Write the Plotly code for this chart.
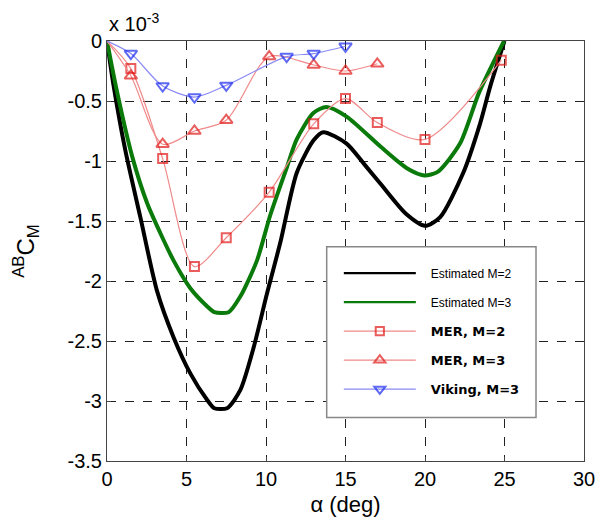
import plotly.graph_objects as go

# values of ABCM are in units of 1e-3 (as shown on the axis, "x 10^-3")
est_m2_alpha = [0, 0.4, 1.15, 2.1, 3.14, 4.19, 5.24, 6.29, 6.75, 7.55, 8.38, 9.23, 10.07, 10.9, 11.93,
                12.98, 13.6, 15.07, 16.2, 17.2, 18.8, 20.0, 20.94, 22.4, 23.46, 24.1, 25.0]
est_m2_cm = [0, -0.36, -0.91, -1.47, -2.08, -2.47, -2.77, -2.99, -3.06, -3.06, -2.91, -2.55, -2.1, -1.68, -1.1,
             -0.83, -0.76, -0.855, -1.03, -1.19, -1.44, -1.54, -1.47, -1.1, -0.69, -0.38, 0.0]

est_m3_alpha = [0, 0.61, 1.6, 2.52, 3.35, 4.19, 5.24, 6.29, 6.75, 7.65, 8.38, 9.43, 10.27, 11.32, 11.93,
                12.98, 13.8, 15.07, 17.2, 18.86, 19.95, 20.8, 22.2, 23.4, 24.97]
est_m3_cm = [0, -0.41, -0.97, -1.35, -1.6, -1.83, -2.06, -2.21, -2.26, -2.26, -2.13, -1.83, -1.45, -1.05, -0.82,
             -0.6, -0.55, -0.63, -0.88, -1.06, -1.12, -1.09, -0.855, -0.43, 0.0]

mer_m2_alpha = [0, 1.5, 3.5, 5.5, 7.5, 10.2, 13, 15, 17, 20, 24.8]
mer_m2_cm = [0, -0.23, -0.98, -1.88, -1.64, -1.26, -0.69, -0.48, -0.68, -0.82, -0.16]

mer_m3_alpha = [0, 1.5, 3.5, 5.5, 7.5, 10.2, 13, 15, 17]
mer_m3_cm = [0, -0.29, -0.86, -0.75, -0.66, -0.13, -0.20, -0.25, -0.19]

viking_m3_alpha = [0, 1.5, 3.5, 5.5, 7.5, 11.3, 13, 15]
viking_m3_cm = [0, -0.105, -0.375, -0.467, -0.37, -0.13, -0.105, -0.044]

x_ticks = [0, 5, 10, 15, 20, 25, 30]
y_ticks = [0, -0.5, -1, -1.5, -2, -2.5, -3, -3.5]
y_tick_labels = ["0", "-0.5", "-1", "-1.5", "-2", "-2.5", "-3", "-3.5"]

FONT = "Arial, Liberation Sans, sans-serif"
PAD = "\u00a0\u00a0\u00a0"

def bold(t):
    return PAD + f"<span style='font-family:DejaVu Sans;font-weight:bold;font-size:13px'>{t}</span>"

fig = go.Figure()

def sizes(n, s):
    return [0] + [s] * (n - 1)

# estimated curves (drawn thick, legend sample thinner)
for xs, ys, col, nm, grp in [(est_m2_alpha, est_m2_cm, "black", "Estimated M=2", "a"),
                             (est_m3_alpha, est_m3_cm, "#0a7a0a", "Estimated M=3", "b")]:
    fig.add_trace(go.Scatter(
        x=xs, y=ys, mode="lines", name=nm, showlegend=False,
        line=dict(color=col, width=4, shape="spline", smoothing=0.7),
        legendgroup=grp))
    fig.add_trace(go.Scatter(
        x=[None], y=[None], mode="lines", name=PAD + nm,
        line=dict(color=col, width=2.2), legendgroup=grp))

fig.add_trace(go.Scatter(
    x=mer_m2_alpha, y=mer_m2_cm, mode="lines+markers", name=bold("MER, M=2"),
    line=dict(color="#f08a8a", width=1.2, shape="spline", smoothing=0.8),
    marker=dict(symbol="square-open", size=sizes(len(mer_m2_alpha), 9), color="#e01818",
                line=dict(width=2, color="#e01818")),
    legendgroup="c"))
fig.add_trace(go.Scatter(
    x=mer_m3_alpha, y=mer_m3_cm, mode="lines+markers", name=bold("MER, M=3"),
    line=dict(color="#f08a8a", width=1.2, shape="spline", smoothing=0.8),
    marker=dict(symbol="triangle-up-open", size=sizes(len(mer_m3_alpha), 11), color="#e01818",
                line=dict(width=2, color="#e01818")),
    legendgroup="d"))
fig.add_trace(go.Scatter(
    x=viking_m3_alpha, y=viking_m3_cm, mode="lines+markers", name=bold("Viking, M=3"),
    line=dict(color="#8a8af5", width=1.2, shape="spline", smoothing=0.8),
    marker=dict(symbol="triangle-down-open", size=sizes(len(viking_m3_alpha), 11), color="#1a2af0",
                line=dict(width=2, color="#1a2af0")),
    legendgroup="e"))

axis_common = dict(
    showgrid=True, gridcolor="#222", griddash="dash", gridwidth=1,
    showline=True, linecolor="#444", linewidth=1, mirror=True,
    ticks="inside", ticklen=4, tickcolor="#444",
    zeroline=False, automargin=False,
    tickfont=dict(family=FONT, size=20, color="black"),
)

fig.update_layout(
    width=600, height=524,
    margin=dict(l=107, r=16, t=41, b=63),
    paper_bgcolor="white", plot_bgcolor="white",
    font=dict(family=FONT, color="black"),
    xaxis=dict(range=[0, 30], tickvals=x_ticks, **axis_common,
               title=dict(text="α (deg)", font=dict(family=FONT, size=22), standoff=7)),
    yaxis=dict(range=[-3.5, 0], tickvals=y_ticks, ticktext=y_tick_labels, **axis_common,
               title=dict(text="<sup>AB</sup>C<sub>M</sub>", font=dict(family=FONT, size=24), standoff=26)),
    legend=dict(x=0.486, y=0.482, xanchor="left", yanchor="top",
                bgcolor="rgba(0,0,0,0)", borderwidth=0,
                font=dict(family=FONT, size=12, color="black"),
                itemwidth=72, traceorder="grouped", tracegroupgap=10),
    shapes=[dict(type="rect", xref="paper", yref="paper",
                 x0=0.4606, x1=0.8994, y0=0.51, y1=0.1038, line=dict(color="#888", width=1.5),
                 fillcolor="white", layer="above")],
    annotations=[dict(text="x 10<sup>-3</sup>", xref="paper", yref="paper", x=0, y=1.0,
                      xanchor="left", yanchor="bottom", yshift=4, showarrow=False,
                      font=dict(family=FONT, size=20))],
)

fig.write_html("out.html")
